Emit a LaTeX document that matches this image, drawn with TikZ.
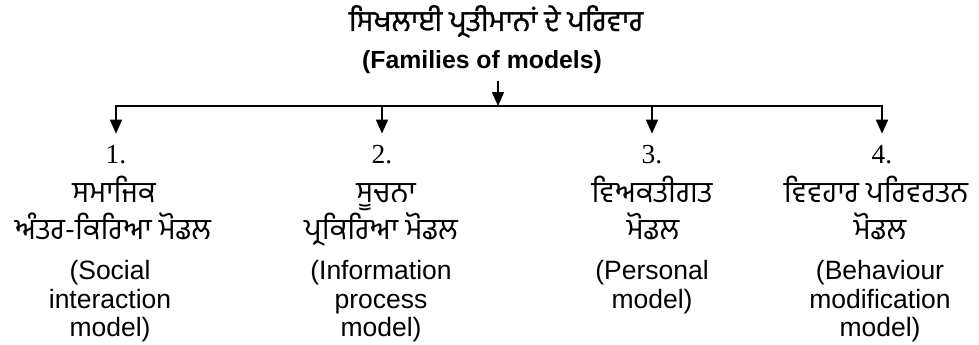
\documentclass[tikz,border=0pt]{standalone}
\usepackage{fontspec}
\setmainfont{Liberation Sans}
\newfontfamily\gur[Script=Gurmukhi]{Hind Jalandhar}
\newfontfamily\gurtitle[Script=Gurmukhi,FakeBold=0.9]{Hind Jalandhar}
\newfontfamily\numfont{Liberation Serif}
\usetikzlibrary{arrows.meta}
\begin{document}
\begin{tikzpicture}[x=1pt,y=-1pt,
  txt/.style={inner sep=0pt, anchor=base, font=\fontsize{26.5}{28}\selectfont},
  gtxt/.style={inner sep=0pt, anchor=base, text depth=2pt, font=\gur\fontsize{29.5}{32}\selectfont},
  num/.style={inner sep=0pt, anchor=base, font=\numfont\fontsize{27.5}{28}\selectfont},
  conn/.style={line width=1.5pt, -{Triangle[width=12pt,length=14pt]}},
  drop/.style={conn, shorten >=11pt}]
\useasboundingbox (0,0) rectangle (979,345);

\node[gtxt, font=\gurtitle\fontsize{29}{30}\selectfont, text depth=0pt] (title) at (496,31) {ਸਿਖਲਾਈ ਪ੍ਰਤੀਮਾਨਾਂ ਦੇ ਪਰਿਵਾਰ};
\node[txt, font=\bfseries\fontsize{24.8}{28}\selectfont] (sub) at (482,68) {(Families of models)};
\coordinate (top) at (498,81);
\coordinate (junction) at (498,106);
\draw[conn] (top) -- (junction);

% column 1
\node[num] (n1) at (116,163) {1.};
\node[gtxt] (g1a) at (114,202) {ਸਮਾਜਿਕ};
\node[gtxt] (g1b) at (113,239) {ਅੰਤਰ-ਕਿਰਿਆ ਮੋਡਲ};
\node[txt] (e1a) at (110,279) {(Social};
\node[txt] (e1b) at (110,308) {interaction};
\node[txt] (e1c) at (110,336) {model)};

% column 2
\node[num] (n2) at (382,163) {2.};
\node[gtxt] (g2a) at (386,202) {ਸੂਚਨਾ};
\node[gtxt] (g2b) at (381,239) {ਪ੍ਰਕਿਰਿਆ ਮੋਡਲ};
\node[txt] (e2a) at (381,279) {(Information};
\node[txt] (e2b) at (381,308) {process};
\node[txt] (e2c) at (381,336) {model)};

% column 3
\node[num] (n3) at (652,163) {3.};
\node[gtxt] (g3a) at (652,202) {ਵਿਅਕਤੀਗਤ};
\node[gtxt] (g3b) at (653,239) {ਮੋਡਲ};
\node[txt] (e3a) at (652,279) {(Personal};
\node[txt] (e3b) at (652,308) {model)};

% column 4
\node[num] (n4) at (882,163) {4.};
\node[gtxt] (g4a) at (876,202) {ਵਿਵਹਾਰ ਪਰਿਵਰਤਨ};
\node[gtxt] (g4b) at (880,239) {ਮੋਡਲ};
\node[txt] (e4a) at (880,279) {(Behaviour};
\node[txt] (e4b) at (880,308) {modification};
\node[txt] (e4c) at (880,336) {model)};

\draw[drop] (junction) -| (n1);
\draw[drop] (junction) -| (n2);
\draw[drop] (junction) -| (n3);
\draw[drop] (junction) -| (n4);
\end{tikzpicture}
\end{document}
